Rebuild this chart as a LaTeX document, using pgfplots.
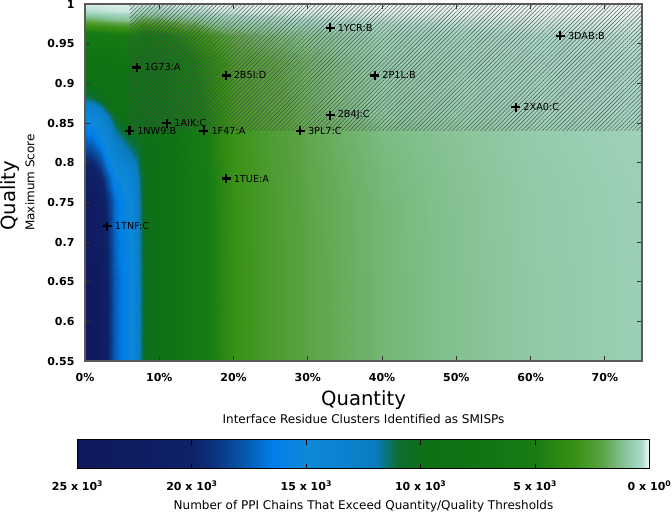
\documentclass[border=0pt]{standalone}
\usepackage{fontspec}
\setmainfont{DejaVu Sans}
\usepackage{pgfplots}
\pgfplotsset{compat=1.18}
\usetikzlibrary{patterns.meta}

% positions in units of 50 chains
\pgfplotsset{
  colormap={ppi}{
    rgb255(0pt)=(245,250,248); rgb255(3pt)=(214,237,230); rgb255(8pt)=(170,216,200);
    rgb255(16pt)=(148,204,172); rgb255(26pt)=(128,190,138); rgb255(42pt)=(90,162,66);
    rgb255(64pt)=(58,146,22); rgb255(84pt)=(40,134,18); rgb255(100pt)=(24,124,20);
    rgb255(150pt)=(16,116,20); rgb255(200pt)=(14,112,22); rgb255(220pt)=(12,110,50);
    rgb255(230pt)=(10,115,120); rgb255(240pt)=(10,124,190); rgb255(270pt)=(12,130,210);
    rgb255(300pt)=(14,136,216); rgb255(330pt)=(0,126,232); rgb255(356pt)=(6,86,170);
    rgb255(380pt)=(12,52,128); rgb255(400pt)=(14,34,104); rgb255(500pt)=(16,24,92)
  },
}

\begin{document}
\begin{tikzpicture}
\begin{axis}[
  name=ax,
  scale only axis,
  width=557pt, height=357pt,
  xmin=0, xmax=75, ymin=0.55, ymax=1,
  xtick={0,10,20,30,40,50,60,70},
  xticklabels={0\%,10\%,20\%,30\%,40\%,50\%,60\%,70\%},
  ytick={0.55,0.6,0.65,0.7,0.75,0.8,0.85,0.9,0.95,1},
  yticklabels={0.55,0.6,0.65,0.7,0.75,0.8,0.85,0.9,0.95,1},
  xtick pos=both, xticklabel pos=lower,
  ytick pos=both, yticklabel pos=left,
  tick align=inside,
  major tick length=5pt,
  tick style={black!80, line width=0.8pt},
  axis line style={black!65, line width=1.1pt},
  tick label style={font=\fontsize{11}{13}\selectfont\bfseries},
  xticklabel style={yshift=-9pt},
  yticklabel style={xshift=-7pt},
  xlabel={{\fontsize{19.6}{20}\selectfont Quantity}\\{\fontsize{12}{14}\selectfont Interface Residue Clusters Identified as SMISPs}},
  xlabel style={align=center, font=\fontsize{12}{18}\selectfont, yshift=-2pt},
  ylabel={{\fontsize{19.6}{20}\selectfont Quality}\\{\fontsize{12}{14}\selectfont Maximum Score}},
  ylabel style={align=left, font=\fontsize{12}{19}\selectfont, yshift=6pt},
  colormap name=ppi,
  point meta min=0, point meta max=25000,
  colorbar horizontal,
  colorbar sampled,
  colorbar style={
    samples=300,
    scale only axis,
    width=572pt, height=29pt,
    at={(parent axis.south)}, anchor=north, yshift=-70pt,
    x dir=reverse,
    xmin=0, xmax=25000,
    xtick={0,5000,10000,15000,20000,25000},
    xticklabels={0 x 10\textsuperscript{0},5 x 10\textsuperscript{3},10 x 10\textsuperscript{3},15 x 10\textsuperscript{3},20 x 10\textsuperscript{3},25 x 10\textsuperscript{3}},
    scaled x ticks=false,
    xtick align=inside,
    xtick pos=both,
    xticklabel pos=lower,
    major tick length=5pt,
    tick style={black, line width=0.8pt},
    axis line style={black, line width=1.1pt},
    tick label style={font=\fontsize{11}{13}\selectfont\bfseries},
    xticklabel style={yshift=-9pt},
    xlabel={Number of PPI Chains That Exceed Quantity/Quality Thresholds},
    xlabel style={font=\fontsize{12}{14}\selectfont, yshift=-3pt},
  },
  axis on top,
  clip=true,
]

% background: number of chains above each (quantity, quality) threshold
\addplot[surf, shader=interp, mesh/cols=19, point meta=explicit] coordinates {
(0,0.55)[24500] (1,0.55)[24000] (2,0.55)[22500] (3,0.55)[20000] (4,0.55)[17500] (5,0.55)[16500] (6,0.55)[15500] (7,0.55)[13000] (8,0.55)[10500] (10,0.55)[9500] (12,0.55)[8000] (15,0.55)[6000] (20,0.55)[3300] (25,0.55)[2600] (30,0.55)[2050] (40,0.55)[1550] (50,0.55)[1200] (60,0.55)[900] (75,0.55)[680]

(0,0.65)[24500] (1,0.65)[24000] (2,0.65)[22500] (3,0.65)[20000] (4,0.65)[17500] (5,0.65)[16500] (6,0.65)[15500] (7,0.65)[13000] (8,0.65)[10500] (10,0.65)[9500] (12,0.65)[8000] (15,0.65)[6000] (20,0.65)[3300] (25,0.65)[2600] (30,0.65)[2050] (40,0.65)[1550] (50,0.65)[1200] (60,0.65)[900] (75,0.65)[680]

(0,0.75)[23765] (1,0.75)[23280] (2,0.75)[21825] (3,0.75)[19400] (4,0.75)[16975] (5,0.75)[16005] (6,0.75)[15035] (7,0.75)[12740] (8,0.75)[10395] (10,0.75)[9405] (12,0.75)[7920] (15,0.75)[5940] (20,0.75)[3267] (25,0.75)[2574] (30,0.75)[2030] (40,0.75)[1519] (50,0.75)[1176] (60,0.75)[882] (75,0.75)[666]

(0,0.78)[22050] (1,0.78)[21600] (2,0.78)[20250] (3,0.78)[18000] (4,0.78)[15750] (5,0.78)[14850] (6,0.78)[13950] (7,0.78)[12350] (8,0.78)[10290] (10,0.78)[9310] (12,0.78)[7840] (15,0.78)[5880] (20,0.78)[3234] (25,0.78)[2548] (30,0.78)[2009] (40,0.78)[1488] (50,0.78)[1152] (60,0.78)[864] (75,0.78)[653]

(0,0.80)[20090] (1,0.80)[19680] (2,0.80)[18450] (3,0.80)[16400] (4,0.80)[14350] (5,0.80)[13530] (6,0.80)[12710] (7,0.80)[11700] (8,0.80)[10185] (10,0.80)[9215] (12,0.80)[7760] (15,0.80)[5820] (20,0.80)[3201] (25,0.80)[2522] (30,0.80)[1989] (40,0.80)[1457] (50,0.80)[1128] (60,0.80)[846] (75,0.80)[639]

(0,0.82)[18130] (1,0.82)[17760] (2,0.82)[16650] (3,0.82)[14800] (4,0.82)[12950] (5,0.82)[12210] (6,0.82)[11470] (7,0.82)[11050] (8,0.82)[10080] (10,0.82)[9120] (12,0.82)[7680] (15,0.82)[5760] (20,0.82)[3168] (25,0.82)[2496] (30,0.82)[1968] (40,0.82)[1426] (50,0.82)[1104] (60,0.82)[828] (75,0.82)[626]

(0,0.84)[16415] (1,0.84)[16080] (2,0.84)[15075] (3,0.84)[13400] (4,0.84)[11725] (5,0.84)[11055] (6,0.84)[10385] (7,0.84)[10400] (8,0.84)[9975] (10,0.84)[9025] (12,0.84)[7600] (15,0.84)[5700] (20,0.84)[3135] (25,0.84)[2470] (30,0.84)[1948] (40,0.84)[1395] (50,0.84)[1080] (60,0.84)[810] (75,0.84)[612]

(0,0.86)[14700] (1,0.86)[14400] (2,0.86)[13500] (3,0.86)[12000] (4,0.86)[10500] (5,0.86)[9900] (6,0.86)[9300] (7,0.86)[9750] (8,0.86)[9450] (10,0.86)[8550] (12,0.86)[7200] (15,0.86)[5400] (20,0.86)[2970] (25,0.86)[2340] (30,0.86)[1845] (40,0.86)[1008] (50,0.86)[780] (60,0.86)[585] (75,0.86)[442]

(0,0.88)[11515] (1,0.88)[11280] (2,0.88)[10575] (3,0.88)[9400] (4,0.88)[8225] (5,0.88)[7755] (6,0.88)[7285] (7,0.88)[8840] (8,0.88)[9135] (10,0.88)[8265] (12,0.88)[6960] (15,0.88)[5220] (20,0.88)[2871] (25,0.88)[2262] (30,0.88)[1784] (40,0.88)[930] (50,0.88)[720] (60,0.88)[540] (75,0.88)[408]

(0,0.90)[9555] (1,0.90)[9360] (2,0.90)[9000] (3,0.90)[8700] (4,0.90)[8400] (5,0.90)[8200] (6,0.90)[8000] (7,0.90)[8060] (8,0.90)[8925] (10,0.90)[8075] (12,0.90)[6800] (15,0.90)[5100] (20,0.90)[2805] (25,0.90)[2210] (30,0.90)[1743] (40,0.90)[884] (50,0.90)[684] (60,0.90)[513] (75,0.90)[388]

(0,0.93)[8100] (1,0.93)[8000] (2,0.93)[7900] (3,0.93)[7800] (4,0.93)[7700] (5,0.93)[7600] (6,0.93)[7500] (7,0.93)[7500] (8,0.93)[8400] (10,0.93)[7600] (12,0.93)[6400] (15,0.93)[4800] (20,0.93)[2640] (25,0.93)[2080] (30,0.93)[1640] (40,0.93)[822] (50,0.93)[636] (60,0.93)[477] (75,0.93)[360]

(0,0.96)[6000] (1,0.96)[5900] (2,0.96)[5800] (3,0.96)[5700] (4,0.96)[5600] (5,0.96)[5500] (6,0.96)[5400] (7,0.96)[5600] (8,0.96)[6300] (10,0.96)[5700] (12,0.96)[4800] (15,0.96)[3600] (20,0.96)[1980] (25,0.96)[1560] (30,0.96)[1230] (40,0.96)[698] (50,0.96)[540] (60,0.96)[405] (75,0.96)[306]

(0,0.98)[1789] (1,0.98)[1752] (2,0.98)[1643] (3,0.98)[1460] (4,0.98)[1278] (5,0.98)[1205] (6,0.98)[1132] (7,0.98)[1690] (8,0.98)[2100] (10,0.98)[1900] (12,0.98)[1600] (15,0.98)[1200] (20,0.98)[660] (25,0.98)[520] (30,0.98)[410] (40,0.98)[310] (50,0.98)[240] (60,0.98)[180] (75,0.98)[136]

(0,0.99)[392] (1,0.99)[384] (2,0.99)[360] (3,0.99)[320] (4,0.99)[280] (5,0.99)[264] (6,0.99)[248] (7,0.99)[455] (8,0.99)[630] (10,0.99)[570] (12,0.99)[480] (15,0.99)[360] (20,0.99)[198] (25,0.99)[156] (30,0.99)[123] (40,0.99)[93] (50,0.99)[72] (60,0.99)[54] (75,0.99)[41]

(0,1.00)[147] (1,1.00)[144] (2,1.00)[135] (3,1.00)[120] (4,1.00)[105] (5,1.00)[99] (6,1.00)[93] (7,1.00)[156] (8,1.00)[210] (10,1.00)[190] (12,1.00)[160] (15,1.00)[120] (20,1.00)[66] (25,1.00)[52] (30,1.00)[41] (40,1.00)[31] (50,1.00)[24] (60,1.00)[18] (75,1.00)[14]
};

% hatched region: both thresholds exceeded
\addplot[draw=none,
  pattern={Lines[angle=45, distance=2.9pt, line width=0.45pt]}, pattern color=black!70]
  coordinates {(6,0.84) (75,0.84) (75,1) (6,1)} -- cycle;

% named chains
\addplot[only marks, mark=+, mark size=4.5pt, line width=2.2pt,
  mark options={line width=2.2pt, black, solid},
  nodes near coords, point meta=explicit symbolic,
  every node near coord/.style={anchor=west, inner sep=0pt, xshift=7.5pt, black,
    line width=0.4pt, font=\fontsize{9.7}{11}\selectfont}]
  table[meta=label] {
x y label
33 0.97 1YCR:B
64 0.96 3DAB:B
7 0.92 1G73:A
19 0.91 2B5I:D
39 0.91 2P1L:B
58 0.87 2XA0:C
33 0.86 2B4J:C
11 0.85 1AIK:C
6 0.84 1NW9:B
16 0.84 1F47:A
29 0.84 3PL7:C
19 0.78 1TUE:A
3 0.72 1TNF:C
};
\end{axis}
\pgfresetboundingbox
\path[use as bounding box] ([xshift=-85pt,yshift=-152pt]ax.south west) rectangle ([xshift=30pt,yshift=4pt]ax.north east);
\end{tikzpicture}
\end{document}
